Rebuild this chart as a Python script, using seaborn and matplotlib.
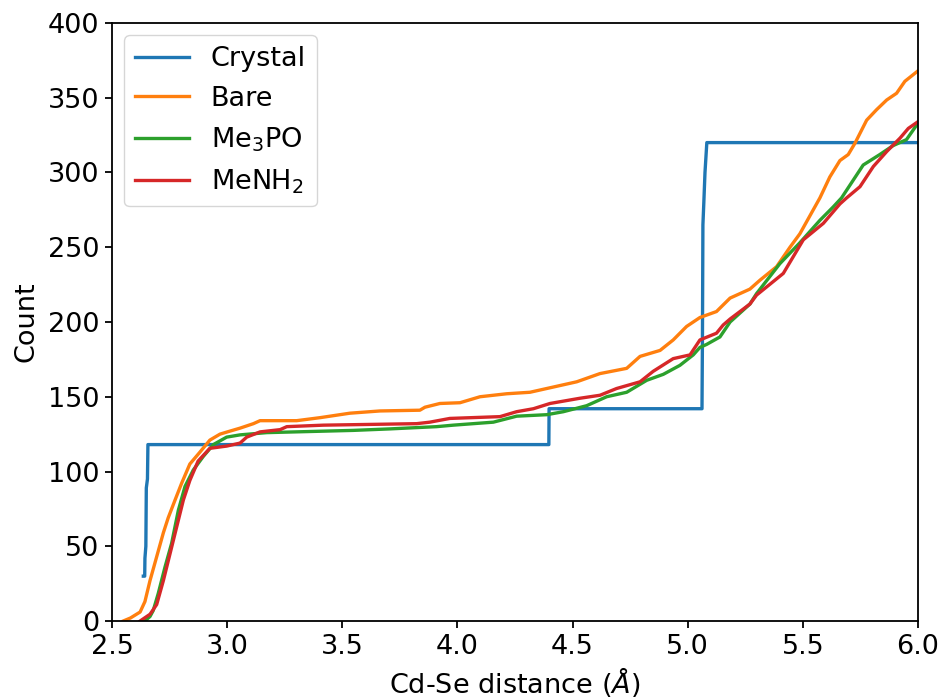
import numpy as np
import pandas as pd
import matplotlib
matplotlib.use("Agg")
import matplotlib.pyplot as plt
import seaborn as sns

# Cumulative number of Cd-Se pairs within a given distance
crystal_x = [2.636, 2.642, 2.643, 2.647, 2.649, 2.654, 2.656, 4.397, 4.398,
             5.062, 5.064, 5.066, 5.070, 5.075, 5.083, 6.0]
crystal_y = [30, 30, 42, 50, 89, 95, 118, 118, 142,
             142, 190, 265, 280, 300, 320, 320]

bare_x = [2.549, 2.580, 2.622, 2.643, 2.665, 2.694, 2.723, 2.744, 2.774, 2.802,
          2.838, 2.882, 2.925, 2.969, 3.012, 3.056, 3.114, 3.143, 3.302, 3.403,
          3.533, 3.664, 3.837, 3.859, 3.924, 4.011, 4.098, 4.214, 4.315, 4.402,
          4.518, 4.619, 4.735, 4.793, 4.880, 4.937, 4.995, 5.053, 5.125, 5.184,
          5.270, 5.314, 5.386, 5.444, 5.487, 5.545, 5.574, 5.617, 5.661, 5.697,
          5.726, 5.777, 5.820, 5.864, 5.907, 5.943, 6.0]
bare_y = [0, 2, 6, 13, 27, 43, 59, 69, 81, 92,
          105, 113, 121, 125, 127, 129, 132, 134, 134, 136,
          139, 140.5, 141, 143, 145.5, 146, 150, 152, 153, 156,
          160, 165.5, 169, 177, 181, 188, 197, 203, 207, 216,
          222, 228, 237, 250, 259, 275, 283, 297, 308, 312,
          319.5, 335, 342, 348.5, 353, 361, 368]

me3po_x = [2.643, 2.665, 2.679, 2.701, 2.730, 2.759, 2.788, 2.817, 2.853, 2.896,
           2.940, 2.998, 3.056, 3.172, 3.548, 3.707, 3.910, 3.982, 4.069, 4.156,
           4.257, 4.388, 4.460, 4.561, 4.648, 4.735, 4.822, 4.894, 4.966, 5.024,
           5.053, 5.082, 5.140, 5.184, 5.270, 5.299, 5.400, 5.487, 5.574, 5.632,
           5.668, 5.762, 5.834, 5.892, 5.950, 6.0]
me3po_y = [0, 3, 7, 18.5, 36, 52, 74, 90, 101, 110,
           118, 123, 124.5, 126, 127.5, 128.5, 130, 131, 132, 133,
           137, 138, 140, 144, 150, 153, 161, 165, 171, 178,
           183, 185, 190, 200, 212, 219, 239, 253, 268, 277,
           283, 305, 312, 318, 322, 333]

menh2_x = [2.622, 2.665, 2.694, 2.723, 2.752, 2.781, 2.810, 2.838, 2.874, 2.925,
           2.998, 3.056, 3.085, 3.143, 3.230, 3.259, 3.418, 3.823, 3.880, 3.967,
           4.185, 4.257, 4.330, 4.402, 4.532, 4.619, 4.691, 4.793, 4.850, 4.937,
           5.010, 5.053, 5.125, 5.154, 5.184, 5.270, 5.299, 5.415, 5.502, 5.589,
           5.661, 5.690, 5.748, 5.806, 5.864, 5.922, 5.958, 6.0]
menh2_y = [0, 4.5, 11, 27, 45, 63, 81, 94, 107, 115.5,
           117, 119, 123, 126.5, 128, 130, 131, 132, 133, 135.5,
           136.7, 140, 142, 145.5, 149, 151, 155.5, 160, 167, 175.5,
           178, 188, 192.5, 198, 202, 212, 218, 232.5, 255, 266,
           279, 283, 290.5, 304, 314, 323, 329.5, 334]

labels = ["Crystal", "Bare", r"Me$_3$PO", r"MeNH$_2$"]
series = [(crystal_x, crystal_y), (bare_x, bare_y),
          (me3po_x, me3po_y), (menh2_x, menh2_y)]
colors = sns.color_palette("tab10", 4)

FS = 19.5
plt.rcParams["font.family"] = ["DejaVu Sans"]
plt.rcParams["font.size"] = FS
plt.rcParams["axes.linewidth"] = 1.3
plt.rcParams["xtick.major.width"] = 1.3
plt.rcParams["ytick.major.width"] = 1.3
plt.rcParams["xtick.major.size"] = 4.8
plt.rcParams["ytick.major.size"] = 4.8
plt.rcParams["xtick.major.pad"] = 4.5
plt.rcParams["ytick.major.pad"] = 4.5

fig = plt.figure(figsize=(9.42, 7.0), dpi=100)
ax = fig.add_axes([112 / 942, 79 / 700, 806 / 942, 598 / 700])

for (xs, ys), lab, col in zip(series, labels, colors):
    df = pd.DataFrame({"distance": xs, "count": ys})
    sns.lineplot(data=df, x="distance", y="count", ax=ax, color=col,
                 label=lab, linewidth=2.4, estimator=None, sort=False)

ax.set_xlim(2.5, 6.0)
ax.set_ylim(0, 400)
ax.set_xticks(np.arange(2.5, 6.01, 0.5))
ax.set_yticks(np.arange(0, 401, 50))
ax.tick_params(labelsize=FS)
ax.set_xlabel("Cd-Se distance ($Å$)", fontsize=FS, labelpad=4)
ax.set_ylabel("Count", fontsize=FS, labelpad=6)
ax.legend(loc="upper left", fontsize=FS, borderaxespad=0.45)

fig.savefig("out.png", dpi=100)
